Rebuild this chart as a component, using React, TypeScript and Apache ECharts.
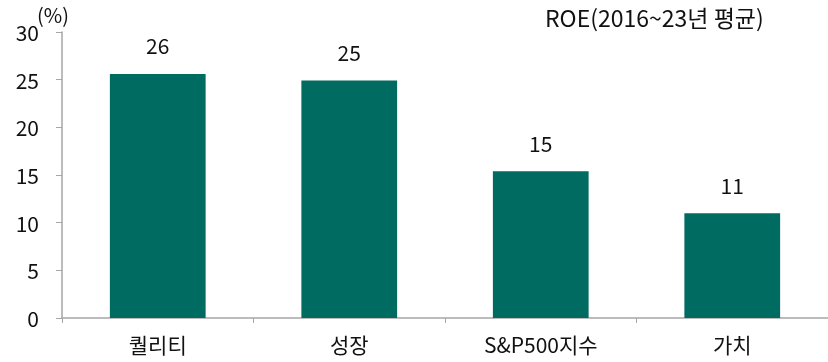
import React, { useEffect, useRef } from "react";
import * as echarts from "echarts";

const categories = ["퀄리티", "성장", "S&P500지수", "가치"];
const roeValues = [25.6, 24.9, 15.4, 11.0];
const yTicks = { min: 0, max: 30, interval: 5 };
const titleText = "ROE(2016~23년 평균)";
const unitText = "(%)";

const FONT = "'Noto Sans CJK KR', 'Noto Sans', sans-serif";

export default function App() {
  const ref = useRef<HTMLDivElement>(null);
  useEffect(() => {
    if (!ref.current) return;
    const chart = echarts.init(ref.current, undefined, { renderer: "svg" });
    chart.setOption({
      animation: false,
      grid: { left: 62, right: -6, top: 32, bottom: 44, containLabel: false },
      graphic: [
        {
          type: "text",
          left: 37,
          top: 4,
          style: { text: unitText, fontSize: 20, fontFamily: FONT, fill: "#111" },
        },
        {
          type: "text",
          left: 545,
          top: 5,
          style: { text: titleText, fontSize: 23, fontFamily: FONT, fill: "#111" },
        },
      ],
      xAxis: {
        type: "category",
        data: categories,
        axisLine: { lineStyle: { color: "#a6a6a6", width: 1.5 } },
        axisTick: { show: true, length: 5, lineStyle: { color: "#a6a6a6" } },
        axisLabel: { fontSize: 21, fontFamily: FONT, color: "#111", margin: 15 },
      },
      yAxis: {
        type: "value",
        min: yTicks.min,
        max: yTicks.max,
        interval: yTicks.interval,
        splitLine: { show: false },
        axisLine: { show: true, lineStyle: { color: "#a6a6a6", width: 1.5 } },
        axisTick: { show: true, length: 6, lineStyle: { color: "#a6a6a6" } },
        axisLabel: { fontSize: 21, fontFamily: FONT, color: "#111", margin: 23 },
      },
      series: [
        {
          type: "bar",
          data: roeValues,
          barWidth: "50%",
          itemStyle: { color: "#006b60" },
          label: {
            show: true,
            position: "top",
            distance: 18,
            fontSize: 21,
            fontFamily: FONT,
            color: "#111",
            formatter: (p: any) => Math.round(p.value).toString(),
          },
        },
      ],
    });
    return () => chart.dispose();
  }, []);
  return (
    <div
      ref={ref}
      style={{ position: "fixed", left: 0, top: 0, width: 828, height: 362 }}
    />
  );
}
